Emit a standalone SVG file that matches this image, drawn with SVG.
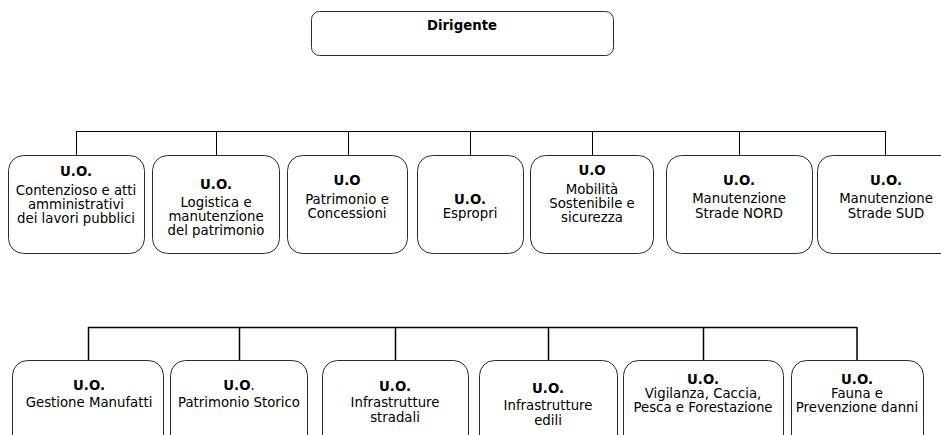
<svg xmlns="http://www.w3.org/2000/svg" width="941" height="435" viewBox="0 0 941 435">
  <style>
    .box { fill: #ffffff; stroke: #2b2b2b; stroke-width: 1; }
    .wire { fill: none; stroke: #000000; stroke-width: 1; }
    .wire2 { fill: none; stroke: #000000; stroke-width: 1.5; }
    text { font-family: "DejaVu Sans", Verdana, sans-serif; font-size: 13.3px; fill: #000000; text-anchor: middle; }
    .b { font-weight: bold; }
  </style>
  <rect width="941" height="435" fill="#ffffff"/>

  <!-- connectors -->
  <g id="connectors">
    <path class="wire" d="M76 131.5 H885.5 M76.5 131 V155 M216.5 131 V155 M348.5 131 V155 M470.5 131 V155 M592.5 131 V155 M739.5 131 V155 M885.5 131 V155"/>
    <path class="wire2" d="M88 327.5 H857 M88.5 327 V360 M239.5 327 V360 M395.5 327 V360 M548.5 327 V360 M703.5 327 V360 M857 327 V360"/>
  </g>

  <!-- top -->
  <g id="dirigente">
    <rect class="box" x="311.5" y="11.5" width="302" height="44" rx="8"/>
    <text class="b" x="462" y="30">Dirigente</text>
  </g>

  <!-- first tier -->
  <g id="uo-contenzioso">
    <rect class="box" x="8.5" y="155.5" width="136" height="98" rx="15"/>
    <text x="76" y="176"><tspan class="b">U.O.</tspan><tspan x="76" y="195">Contenzioso e atti</tspan><tspan x="76" y="209">amministrativi</tspan><tspan x="76" y="223">dei lavori pubblici</tspan></text>
  </g>
  <g id="uo-logistica">
    <rect class="box" x="152.5" y="155.5" width="127" height="98" rx="15"/>
    <text x="216" y="189"><tspan class="b">U.O.</tspan><tspan x="216" y="207">Logistica e</tspan><tspan x="216" y="221">manutenzione</tspan><tspan x="216" y="235">del patrimonio</tspan></text>
  </g>
  <g id="uo-patrimonio">
    <rect class="box" x="287.5" y="155.5" width="120" height="98" rx="15"/>
    <text x="347" y="185"><tspan class="b">U.O</tspan><tspan x="347" y="204">Patrimonio e</tspan><tspan x="347" y="218">Concessioni</tspan></text>
  </g>
  <g id="uo-espropri">
    <rect class="box" x="417.5" y="155.5" width="106" height="98" rx="15"/>
    <text x="470" y="204"><tspan class="b">U.O.</tspan><tspan x="470" y="218">Espropri</tspan></text>
  </g>
  <g id="uo-mobilita">
    <rect class="box" x="530.5" y="155.5" width="123" height="98" rx="15"/>
    <text x="592" y="175"><tspan class="b">U.O</tspan><tspan x="592" y="194">Mobilità</tspan><tspan x="592" y="208">Sostenibile e</tspan><tspan x="592" y="222">sicurezza</tspan></text>
  </g>
  <g id="uo-strade-nord">
    <rect class="box" x="666.5" y="155.5" width="146" height="98" rx="15"/>
    <text x="739" y="185"><tspan class="b">U.O.</tspan><tspan x="739" y="203">Manutenzione</tspan><tspan x="739" y="218">Strade NORD</tspan></text>
  </g>
  <g id="uo-strade-sud">
    <rect class="box" x="817.5" y="155.5" width="140" height="98" rx="15"/>
    <text x="886" y="185"><tspan class="b">U.O.</tspan><tspan x="886" y="203">Manutenzione</tspan><tspan x="886" y="218">Strade SUD</tspan></text>
  </g>

  <!-- second tier -->
  <g id="uo-manufatti">
    <rect class="box" x="12.5" y="360.5" width="151" height="90" rx="15"/>
    <text x="89" y="390"><tspan class="b">U.O.</tspan><tspan x="89" y="407">Gestione Manufatti</tspan></text>
  </g>
  <g id="uo-storico">
    <rect class="box" x="170.5" y="360.5" width="137" height="90" rx="15"/>
    <text x="239" y="390"><tspan class="b">U.O</tspan>.<tspan x="239" y="407">Patrimonio Storico</tspan></text>
  </g>
  <g id="uo-stradali">
    <rect class="box" x="322.5" y="360.5" width="146" height="90" rx="15"/>
    <text x="395" y="391"><tspan class="b">U.O.</tspan><tspan x="395" y="407">Infrastrutture</tspan><tspan x="395" y="422">stradali</tspan></text>
  </g>
  <g id="uo-edili">
    <rect class="box" x="479.5" y="360.5" width="138" height="90" rx="15"/>
    <text x="548" y="393"><tspan class="b">U.O.</tspan><tspan x="548" y="410">Infrastrutture</tspan><tspan x="548" y="425">edili</tspan></text>
  </g>
  <g id="uo-vigilanza">
    <rect class="box" x="623.5" y="360.5" width="160" height="90" rx="15"/>
    <text x="703" y="384"><tspan class="b">U.O.</tspan><tspan x="703" y="398">Vigilanza, Caccia,</tspan><tspan x="703" y="412">Pesca e Forestazione</tspan></text>
  </g>
  <g id="uo-fauna">
    <rect class="box" x="791.5" y="360.5" width="132" height="90" rx="15"/>
    <text x="857" y="384"><tspan class="b">U.O.</tspan><tspan x="857" y="398">Fauna e</tspan><tspan x="857" y="412">Prevenzione danni</tspan></text>
  </g>
</svg>
